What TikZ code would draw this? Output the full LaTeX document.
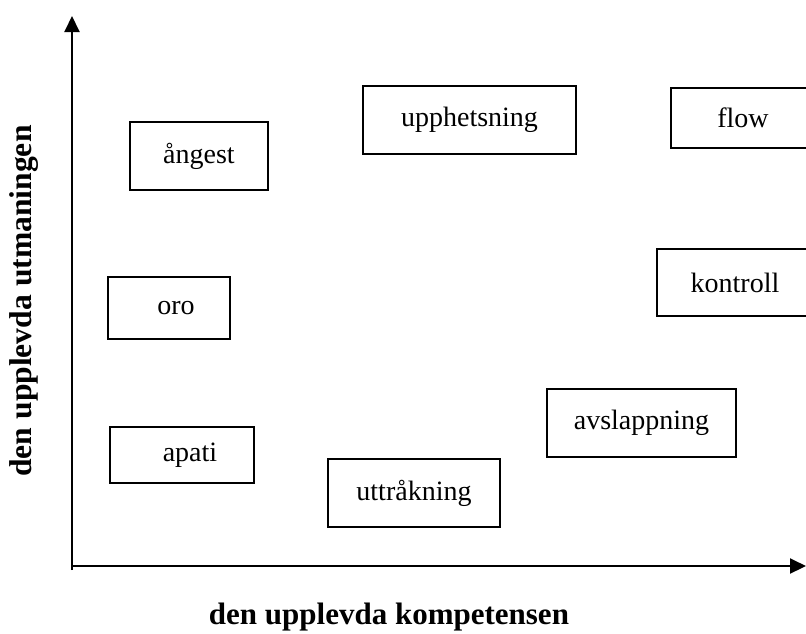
\documentclass[tikz,border=0pt]{standalone}
\usepackage{fontspec}
\setmainfont{Liberation Serif}
\usetikzlibrary{arrows.meta}

\begin{document}
\begin{tikzpicture}[x=0.5pt,y=-0.5pt,
    zone/.style={draw,line width=0.75pt,inner sep=0pt,font=\fontsize{14}{16}\selectfont},
    axis/.style={line width=1pt,-{Triangle[length=8pt,width=7.5pt]}},
    axislabel/.style={font=\fontsize{15.5}{18}\selectfont\bfseries}]
    \useasboundingbox (0,0) rectangle (806,633);

    % the two axes
    \coordinate (o) at (72,570);
    \coordinate (ytop) at (72,16);
    \coordinate (xo) at (72,566);
    \coordinate (xend) at (806,566);
    \draw[axis] (o) -- (ytop);
    \draw[axis] (xo) -- (xend);

    \node[axislabel,font=\fontsize{15.8}{18}\selectfont\bfseries,rotate=90] (ylab) at (24,301) {den upplevda utmaningen};
    \node[axislabel] (xlab) at (389,617) {den upplevda kompetensen};

    % the states
    \node[zone,minimum width=69pt,minimum height=34pt] (angest) at (199,156) {ångest};
    \node[zone,minimum width=106.5pt,minimum height=34pt] (upph) at (469.5,120) {upphetsning};
    \node[zone,minimum width=72pt,minimum height=30pt] (flow) at (743,118) {flow};
    \node[zone,minimum width=61pt,minimum height=31pt] (oro) at (169,308) {\hspace*{7pt}oro};
    \node[zone,minimum width=78pt,minimum height=33.5pt] (kontroll) at (735,282.5) {kontroll};
    \node[zone,minimum width=94.5pt,minimum height=34pt] (avsl) at (641.5,423) {avslappning};
    \node[zone,minimum width=72pt,minimum height=28pt] (apati) at (182,455) {\hspace*{8pt}apati};
    \node[zone,minimum width=86pt,minimum height=34pt] (uttr) at (414,493) {uttråkning};
\end{tikzpicture}
\end{document}
